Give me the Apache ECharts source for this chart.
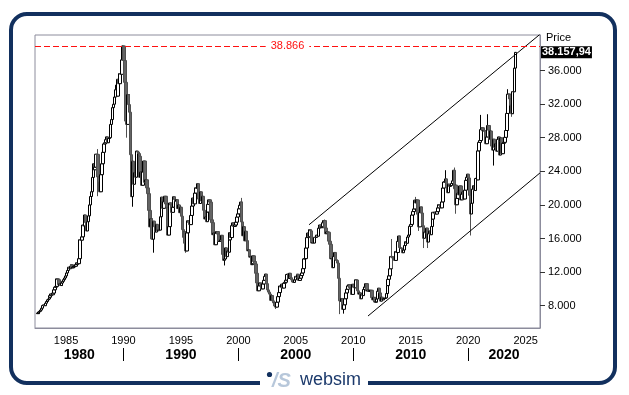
<!DOCTYPE html>
<html><head><meta charset="utf-8">
<script src="https://cdn.jsdelivr.net/npm/echarts@6/dist/echarts.min.js"></script>
<style>html,body{margin:0;padding:0;background:#fff}#c{width:629px;height:395px}</style>
</head><body><div id="c"></div>
<script>
// ---- data (monthly closes, Nikkei 225 style) ----
const firstYear = 1982, firstMonth = 7;
const firstOpen = 7050;
const closes1982to1989 = [
 7130,7250,7330,7480,7700,8017,
 8100,8000,8300,8500,8700,8800,9000,9200,9400,9300,9500,9894,
 10200,10300,11200,11100,10500,10600,10400,10700,10900,11100,11300,11543,
 11900,12200,12580,12400,12700,12880,12500,12600,12700,12700,12900,13113,
 13000,13600,15860,15800,16200,17600,17500,18800,17900,16900,18000,18701,
 20000,21000,21570,23270,24900,24180,24490,26030,26010,23330,22690,21564,
 23600,24900,26260,27260,27400,27770,28100,27400,27900,28000,29580,30159,
 31580,31985,32838,33713,34266,32948,34954,34431,35637,35549,37268,38916];
const closes1990s = [
 37189,34592,29980,29584,33131,31940,31036,25978,20984,25194,22455,23849,
 23293,26409,26292,26111,25790,23291,23899,22335,23916,25222,22687,22984,
 22023,21339,19346,17391,18348,15952,15910,18061,17399,16768,17684,16925,
 17024,17000,18591,20919,20552,19590,20380,21027,20106,19703,16408,17417,
 20229,19997,19112,19725,20974,20644,20449,20629,19564,19990,19076,19723,
 18650,17053,16140,16807,15437,14517,16678,18117,17913,17655,18744,19868,
 20813,20125,21407,22041,21956,22531,20693,20167,21556,20467,21020,19361,
 18330,18557,18003,19151,20068,20605,20331,18229,17888,16459,16636,15258,
 16628,16831,16527,15641,15670,15830,16379,14108,13406,13564,14883,13842,
 14499,14367,15837,16701,16112,17530,17862,17437,17605,17942,18558,18934];
const closes2000s = [
 19540,19960,20337,17974,16332,17411,15727,16861,15747,14540,14649,13786,
 13843,12883,12999,13934,13262,12969,11861,10713,9775,10367,10697,10543,
 9997,10587,11025,11493,11764,10622,9877,9619,9383,8640,9216,8579,
 8340,8363,7973,7831,8425,9083,9563,10344,10219,10560,10101,10677,
 10784,11041,11715,11762,11236,11859,11326,11082,10824,10771,11073,11489,
 11388,11741,11669,11009,11277,11584,11900,12414,13574,13607,14872,16111,
 16650,16205,17060,16907,15467,15505,15457,16141,16128,16399,16274,17226,
 17383,17604,17288,17400,17876,18138,17248,16569,16786,16737,15680,15308,
 13592,13603,12526,13850,14338,13481,13377,13073,11260,8577,8512,8860,
 7994,7568,8110,8828,9523,9958,10357,10493,10133,10035,9346,10546];
const closes2010s = [
 10198,10126,11090,11057,9769,9383,9537,8824,9369,9202,9937,10229,
 10238,10624,9755,9850,9694,9816,9833,8955,8700,8988,8435,8455,
 8803,9723,10084,9521,8543,9007,8695,8840,8870,8928,9446,10395,
 11139,11559,12398,13861,13775,13677,13668,13389,14456,14328,15662,16291,
 14915,14841,14828,14304,14632,15162,15621,15425,16174,16414,17460,17451,
 17674,18798,19207,19520,20563,20236,20585,18890,17388,19083,19747,19034,
 17518,16027,16759,16666,17235,15576,16569,16887,16450,17425,18308,19114,
 19041,19119,18909,19197,19651,20033,19925,19646,20356,22012,22725,22765,
 23098,22068,21454,22468,22202,22305,22554,22865,24120,21920,22351,20015,
 20773,21385,21206,22259,20601,21276,21522,20704,21756,22927,23294,23657];
const closes2020s = [
 23205,21143,18917,20194,21878,22288,21710,23140,23185,22977,26434,27444,
 27663,28966,29179,28813,28860,28792,27284,28090,29453,28893,27822,28792,
 27002,26527,27821,26848,27280,26393,27802,28092,25937,27587,27969,26095,
 27327,27446,28041,28856,30888,33189,33172,32619,31858,30859,33487,33464,
 36287,38157.94];
// visible wicks: [year, month, low, high]
const wicks = [
 [1987,10,21036,26646],[1989,12,null,38957],[1990,4,28000,null],[1990,10,19781,null],
 [1992,8,14309,null],[1995,6,14295,null],[1998,10,12788,null],[2000,4,null,20833],
 [2003,4,7604,null],[2007,7,null,18262],[2008,10,6995,null],[2009,3,7055,null],
 [2013,5,null,15942],[2013,6,12415,null],[2015,6,null,20952],[2015,9,16901,null],
 [2016,2,14865,null],[2016,6,14864,null],[2018,1,null,24129],[2018,10,null,24448],
 [2018,12,18948,null],[2020,3,16358,null],[2021,2,null,30714],[2021,9,null,30795],
 [2022,3,24681,null],[2023,6,null,33772],[2023,10,30487,null],[2024,1,null,36984],[2024,2,null,38180]];
const allTimeHigh = 38866;
const lastPrice = 38157.94;
const upperChannel = [[2006.15, 17636], [2026.25, 40310]];
const lowerChannel = [[2011.28, 6770], [2026.25, 23809]];
const yearTicks = [1985, 1990, 1995, 2000, 2005, 2010, 2015, 2020, 2025];
const priceTicks = [8000, 12000, 16000, 20000, 24000, 28000, 32000, 36000];
const decadeBounds = [1990, 2000, 2010, 2020];
const decadeLabels = ['1980', '1990', '2000', '2010', '2020'];
const decadeLabelAt = [1986.15, 1995, 2005, 2015, 2023.12];

// ---- build ----
const wickMap = {};
wicks.forEach(w => { wickMap[w[0] * 100 + w[1]] = [w[2], w[3]]; });
const allCloses = [].concat(closes1982to1989, closes1990s, closes2000s, closes2010s, closes2020s);
const candles = [];
let prev = firstOpen;
allCloses.forEach((c, i) => {
  const mIdx = (firstMonth - 1) + i;
  const yr = firstYear + Math.floor(mIdx / 12);
  const mo = mIdx % 12 + 1;
  const x = yr + (mo - 0.5) / 12;
  let lo = Math.min(prev, c), hi = Math.max(prev, c);
  const w = wickMap[yr * 100 + mo];
  if (w) { if (w[0] != null) lo = Math.min(lo, w[0]); if (w[1] != null) hi = Math.max(hi, w[1]); }
  candles.push([x, prev, c, lo, hi]);
  prev = c;
});
const fmtDot = v => String(v).replace(/\B(?=(\d{3})+(?!\d))/g, '.');
const fmtPrice = v => { const p = v.toFixed(2).split('.'); return fmtDot(p[0]) + ',' + p[1]; };
const FONT = "'Liberation Sans', Arial, sans-serif";
const NAVY = '#12305e';

const chart = echarts.init(document.getElementById('c'));
chart.setOption({
  animation: false,
  backgroundColor: '#fff',
  textStyle: { fontFamily: FONT },
  title: { text: 'Price', left: 546, top: 32, padding: 0, textStyle: { fontSize: 11, fontWeight: 'normal', color: '#000', fontFamily: FONT } },
  grid: { left: 35, right: 89, top: 35, bottom: 67, show: true, borderColor: '#8c8c9c', borderWidth: 1 },
  xAxis: [{
    type: 'value', min: 1982.3, max: 2026.25, position: 'bottom',
    axisLine: { show: true, lineStyle: { color: '#8c8c9c' } },
    axisTick: { show: false },
    splitLine: { show: false },
    axisLabel: { customValues: yearTicks, formatter: v => String(v), fontSize: 11, color: '#000', margin: 7, fontFamily: FONT }
  }, {
    type: 'value', min: 1982.3, max: 2026.25, position: 'bottom', offset: 20,
    axisLine: { show: false },
    axisTick: { show: true, customValues: decadeBounds, length: 13, lineStyle: { color: '#000', width: 1 } },
    splitLine: { show: false },
    axisLabel: {
      customValues: decadeLabelAt,
      formatter: v => decadeLabels[decadeLabelAt.indexOf(v)],
      fontSize: 14, fontWeight: 'bold', color: '#000', margin: 0,
      fontFamily: "'Liberation Sans Narrow', 'Arial Narrow', 'Liberation Sans', sans-serif"
    }
  }],
  yAxis: {
    type: 'value', position: 'right', min: 5345, max: 40226,
    axisLine: { show: true, lineStyle: { color: '#8c8c9c' } },
    axisTick: { show: true, customValues: priceTicks, length: 5, lineStyle: { color: '#333' } },
    splitLine: { show: false },
    axisLabel: { customValues: priceTicks, formatter: fmtDot, fontSize: 11, color: '#000', margin: 8, fontFamily: FONT }
  },
  series: [{
    type: 'candlestick',
    xAxisIndex: 0,
    data: candles,
    barWidth: 3,
    itemStyle: { color: '#ffffff', color0: '#646464', borderColor: '#000000', borderColor0: '#505050', borderWidth: 1 },
    markLine: {
      symbol: 'none', silent: true, animation: false,
      data: [
        { yAxis: allTimeHigh, lineStyle: { color: '#ff1010', type: [6, 3], width: 1 },
          label: { show: true, position: 'insideMiddle', formatter: fmtDot(allTimeHigh), color: '#ff1010', backgroundColor: '#fff', padding: [1, 5], fontSize: 11, fontFamily: FONT } }
      ]
    }
  }, {
    type: 'line', data: upperChannel, symbol: 'none', silent: true,
    lineStyle: { color: '#000', width: 1 }
  }, {
    type: 'line', data: lowerChannel, symbol: 'none', silent: true,
    lineStyle: { color: '#000', width: 1 }
  }, {
    type: 'line', data: [], silent: true,
    markLine: {
      symbol: 'none', silent: true, animation: false,
      data: [{ yAxis: lastPrice, lineStyle: { color: 'rgba(0,0,0,0)', width: 0 },
        label: { show: true, position: 'end', distance: 1, formatter: fmtPrice(lastPrice), color: '#fff', backgroundColor: '#000', fontWeight: 'bold', padding: [1, 1, 0, 1], fontSize: 11, fontFamily: FONT } }]
    }
  }],
  graphic: [
    { type: 'rect', z: 0, silent: true, shape: { x: 11, y: 14, width: 604, height: 369, r: 16 }, style: { fill: 'none', stroke: NAVY, lineWidth: 4 } },
    { type: 'rect', z: 1, silent: true, shape: { x: 260, y: 376, width: 108, height: 14 }, style: { fill: '#fff' } },
    { type: 'circle', z: 2, silent: true, shape: { cx: 269.5, cy: 374.5, r: 2.6 }, style: { fill: NAVY } },
    { type: 'text', z: 2, silent: true, x: 272, y: 371, style: { text: '/S', fill: '#b7c7da', font: "italic bold 20px 'Liberation Sans', Arial, sans-serif" } },
    { type: 'text', z: 2, silent: true, x: 300, y: 371, style: { text: 'websim', fill: '#1c3a6c', font: "18px 'Liberation Sans', Arial, sans-serif" } }
  ]
});
</script>
</body></html>
